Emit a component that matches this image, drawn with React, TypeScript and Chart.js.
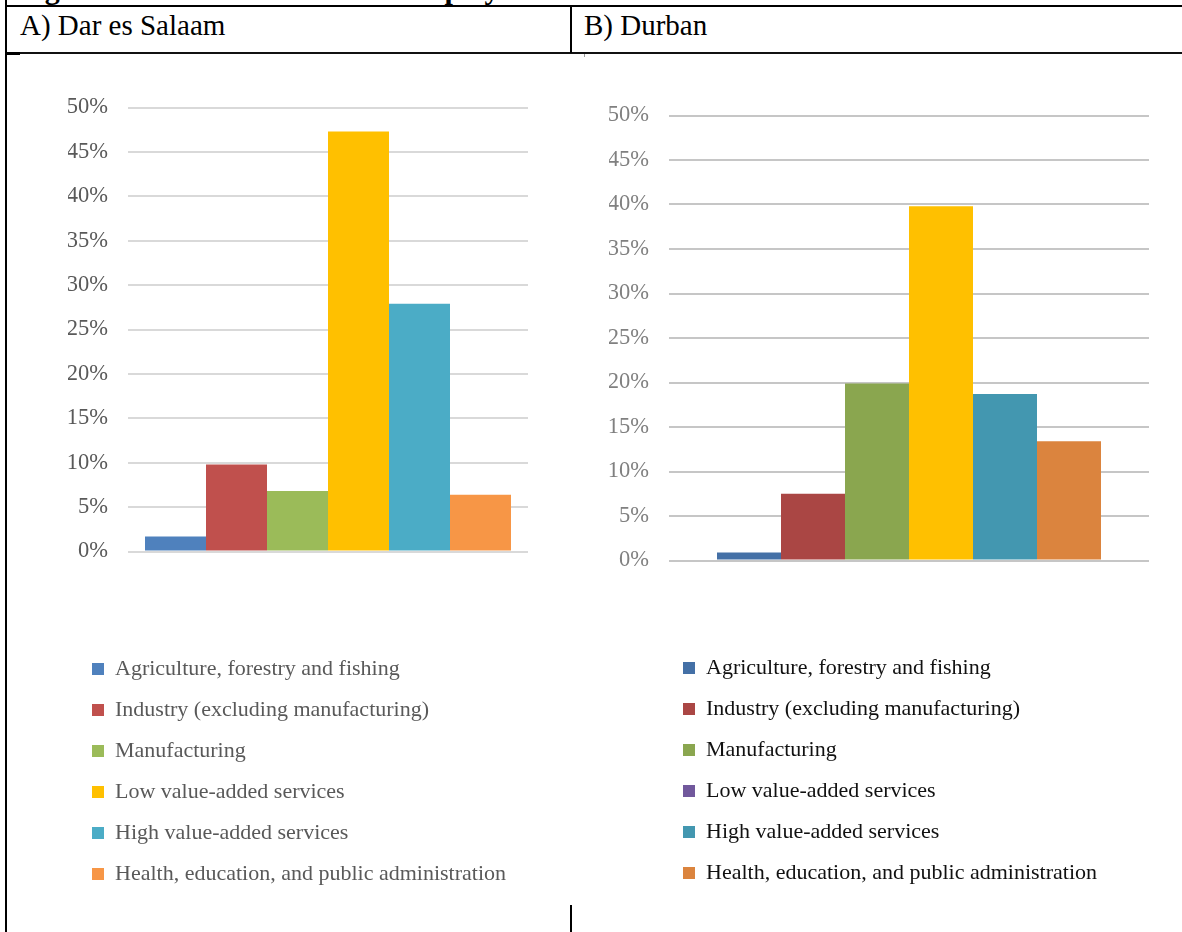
import React, { useEffect, useRef } from "react";
import { Chart, registerables } from "chart.js";

Chart.register(...registerables);

// One bar per sector, in this order, in both panels
const sectors: string[] = [
  "Agriculture, forestry and fishing",
  "Industry (excluding manufacturing)",
  "Manufacturing",
  "Low value-added services",
  "High value-added services",
  "Health, education, and public administration",
];

// Share of employed individuals by sector (percent)
const darEsSalaamShares: number[] = [1.7, 9.8, 6.8, 47.3, 27.9, 6.4];
const durbanShares: number[] = [0.9, 7.5, 19.9, 39.8, 18.7, 13.4];

// Percentage axis: 0% .. 50% in steps of 5%
const axisMax = 50;
const axisStep = 5;

const darEsSalaamColors: string[] = ["#4f81bd", "#c0504d", "#9bbb59", "#ffc000", "#4bacc6", "#f79646"];
const durbanColors: string[] = ["#4470a6", "#aa4644", "#8aa64f", "#ffc000", "#4397b0", "#db843e"];
const durbanLegendColors: string[] = ["#4470a6", "#aa4644", "#8aa64f", "#71589c", "#4397b0", "#db843e"];

const SERIF = '"Liberation Serif", "Times New Roman", Times, serif';

type BarProps = {
  values: number[];
  colors: string[];
  left: number;
  top: number;
  width: number;
  height: number;
  categoryPercentage: number;
  tickColor: string;
  gridColor: string;
};

function SectorBars(props: BarProps) {
  const ref = useRef<HTMLCanvasElement | null>(null);
  useEffect(() => {
    const canvas = ref.current;
    if (!canvas) return;
    const chart = new Chart(canvas, {
      type: "bar",
      data: {
        labels: [""],
        datasets: sectors.map((name, i) => ({
          label: name,
          data: [props.values[i]],
          backgroundColor: props.colors[i],
          borderWidth: 0,
          categoryPercentage: props.categoryPercentage,
          barPercentage: 1,
        })),
      },
      options: {
        animation: false,
        responsive: false,
        events: [],
        layout: { padding: { top: 6, bottom: 6, left: 0, right: 0 } },
        plugins: {
          legend: { display: false },
          tooltip: { enabled: false },
        },
        scales: {
          x: { display: false },
          y: {
            min: 0,
            max: axisMax,
            afterFit: (scale: any) => {
              scale.width = 60;
            },
            border: { display: false },
            grid: { color: props.gridColor, lineWidth: 2, drawTicks: false },
            ticks: {
              stepSize: axisStep,
              padding: 20,
              color: props.tickColor,
              font: { family: SERIF, size: 22.5 },
              callback: (v: any) => `${v}%`,
            },
          },
        },
      },
    });
    return () => chart.destroy();
  }, [props]);
  return (
    <canvas
      ref={ref}
      width={props.width}
      height={props.height}
      style={{ position: "absolute", left: props.left, top: props.top, width: props.width, height: props.height }}
    />
  );
}

type LegendProps = {
  colors: string[];
  textColor: string;
  left: number;
  top: number;
};

// Sector key, one entry per row
function SectorLegend(props: LegendProps) {
  const ref = useRef<HTMLCanvasElement | null>(null);
  const width = 450;
  const height = 530;
  useEffect(() => {
    const canvas = ref.current;
    if (!canvas) return;
    const chart = new Chart(canvas, {
      type: "bar",
      data: {
        labels: [],
        datasets: sectors.map((name, i) => ({
          label: name,
          data: [],
          backgroundColor: props.colors[i],
          borderWidth: 0,
        })),
      },
      options: {
        animation: false,
        responsive: false,
        events: [],
        layout: { padding: 0 },
        scales: { x: { display: false }, y: { display: false } },
        plugins: {
          tooltip: { enabled: false },
          legend: {
            position: "top",
            align: "start",
            labels: {
              boxWidth: 12,
              boxHeight: 12,
              padding: 19,
              color: props.textColor,
              font: { family: SERIF, size: 22 },
            },
          },
        },
      },
    });
    return () => chart.destroy();
  }, [props]);
  return (
    <canvas
      ref={ref}
      width={width}
      height={height}
      style={{ position: "absolute", left: props.left, top: props.top, width, height }}
    />
  );
}

function Rule(p: { left: number; top: number; width: number; height: number; color?: string }) {
  return (
    <div
      style={{
        position: "absolute",
        left: p.left,
        top: p.top,
        width: p.width,
        height: p.height,
        background: p.color || "#000",
      }}
    />
  );
}

export default function App() {
  return (
    <div
      style={{
        position: "fixed",
        left: 0,
        top: 0,
        width: 1182,
        height: 932,
        overflow: "hidden",
        background: "#fff",
        fontFamily: SERIF,
      }}
    >
      <div
        style={{
          position: "absolute",
          left: 18,
          top: -26,
          fontSize: 30,
          lineHeight: "30px",
          fontWeight: "bold",
          whiteSpace: "nowrap",
          color: "#000",
        }}
      >
        Figure 3: Share of individuals employed in low value-added services
      </div>

      {/* table frame */}
      <Rule left={5} top={5} width={1177} height={2} />
      <Rule left={5} top={0} width={2} height={932} />
      <Rule left={5} top={52} width={1177} height={2} color="#111" />
      <Rule left={5} top={52} width={15} height={3} />
      <Rule left={570} top={7} width={2} height={46} />
      <Rule left={584} top={54} width={1} height={3} color="#999" />
      <Rule left={570} top={905} width={2} height={27} />

      <div
        style={{ position: "absolute", left: 20, top: 11, fontSize: 29, lineHeight: "29px", color: "#000", whiteSpace: "nowrap" }}
      >
        A) Dar es Salaam
      </div>
      <div
        style={{ position: "absolute", left: 584, top: 11, fontSize: 29, lineHeight: "29px", color: "#000", whiteSpace: "nowrap" }}
      >
        B) Durban
      </div>

      <SectorBars
        values={darEsSalaamShares}
        colors={darEsSalaamColors}
        left={68}
        top={74}
        width={460}
        height={511}
        categoryPercentage={0.915}
        tickColor="#595959"
        gridColor="#d9d9d9"
      />
      <SectorLegend colors={darEsSalaamColors} textColor="#595959" left={73} top={639} />

      <SectorBars
        values={durbanShares}
        colors={durbanColors}
        left={609}
        top={82}
        width={540}
        height={512}
        categoryPercentage={0.8}
        tickColor="#808080"
        gridColor="#c6c6c6"
      />
      <SectorLegend colors={durbanLegendColors} textColor="#111111" left={664} top={638} />
    </div>
  );
}
